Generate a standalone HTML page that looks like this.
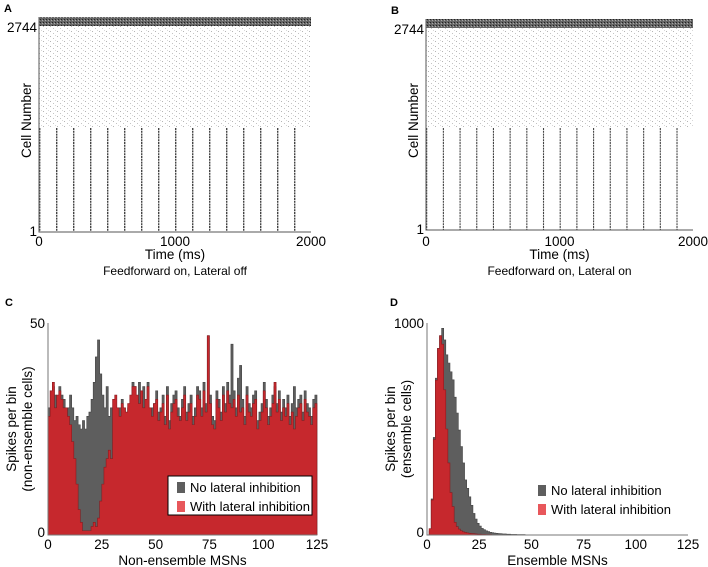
<!DOCTYPE html>
<html><head><meta charset="utf-8"><style>
body{margin:0;background:#fff;}
svg{display:block;font-family:"Liberation Sans",Arial,sans-serif;}
</style></head><body>
<svg id="fig" width="708" height="567" viewBox="0 0 708 567">
<defs>
<pattern id="speck" width="7" height="5" patternUnits="userSpaceOnUse">
<rect width="7" height="5" fill="#fff"/>
<rect x="1" y="1" width="1" height="1" fill="#b4b4b4"/>
<rect x="4" y="3" width="1" height="1" fill="#c4c4c4"/>
<rect x="6" y="0" width="1" height="1" fill="#d8d8d8"/>
</pattern>
<pattern id="dense" width="3" height="3" patternUnits="userSpaceOnUse">
<rect width="3" height="3" fill="#666"/>
<rect x="1" y="1" width="1" height="1" fill="#222"/>
<rect x="0" y="2" width="1" height="1" fill="#aaa"/>
</pattern>
</defs>
<g id="A"></g>
<g id="B"></g>
<g id="C"></g>
<g id="D"></g>
</svg>
<script>
// Raster data
const burstTimes = [0,125,250,375,500,625,750,875,1000,1125,1250,1375,1500,1625,1750,1875];
const rasterTicks = [0,1000,2000];
// Panel C data (non-ensemble, bin width 1)
const cGray = [30,34,35,33,30,35,33,32,28,30,33,30,27,28,26,25,27,25,28,29,32,36,42,46,38,33,30,35,28,30,
30,26,25,30,32,30,28,30,32,36,35,30,36,30,35,32,36,28,30,31,34,29,30,33,28,35,27,31,33,34,
30,28,32,35,29,31,33,28,30,35,34,30,36,31,47,33,28,27,34,32,29,35,31,36,33,45,34,30,37,40,
32,28,35,31,30,33,34,27,29,31,36,32,28,30,33,35,31,34,29,32,30,33,28,31,35,30,32,33,29,34,31,30,28,32,33];
const cRed = [28,34,36,30,33,34,32,30,30,28,26,22,18,12,6,3,1,1,1,1,2,3,2,4,8,12,16,18,20,18,
32,33,30,28,31,30,29,31,33,35,35,33,31,34,30,32,35,30,28,31,32,27,29,31,26,33,25,29,31,32,
28,27,30,33,27,29,31,26,28,33,32,28,34,29,47,31,26,25,32,30,27,33,29,34,31,30,32,28,33,29,
30,26,33,29,28,31,32,25,27,29,34,30,26,28,31,36,29,32,27,30,28,31,26,29,25,28,30,31,27,32,29,28,26,30,31];
// Panel D data (ensemble)
const dGray = [0,20,170,460,740,880,940,975,920,850,811,770,732,650,575,495,417,340,260,220,180,140,102,75,55,42,31,25,20,16,13,11,9,8,7,6,5,5,4,4,3,3,3,2,2,2,2,1,1,1,1,1,1,1,1];
const dRed = [0,30,165,450,730,880,940,900,685,500,340,200,134,60,40,28,20,15,12,10,8,7,6,5,4,4,3,3,2,2,2,1,1,1,1,1,1,1,1,1];
const histTicks = [0,25,50,75,100,125];

const NS='http://www.w3.org/2000/svg';
function mk(parent,tag,attrs,text){const e=document.createElementNS(NS,tag);for(const k in attrs)e.setAttribute(k,attrs[k]);if(text!==undefined)e.textContent=text;parent.appendChild(e);return e;}

function raster(gid,L,R,T,band,sparseEnd,B,label,caption,lw){
  const g=document.getElementById(gid);
  const x=t=>L+(t/2000)*(R-L);
  let e;
  e=mk(g,'text',{x:L-35,y:T-5,'font-size':11,'font-weight':'bold'},label);
  
  
  e=mk(g,'rect',{x:L,y:band,width:R-L,height:sparseEnd-band,fill:'url(#speck)'});
  
  
  e=mk(g,'rect',{x:L,y:T,width:R-L,height:band-T,fill:'url(#dense)'});
  
  
  burstTimes.forEach(t=>{
    const l=mk(g,'line',{x1:x(t)+0.7,x2:x(t)+0.7,y1:sparseEnd,y2:B,stroke:'#444','stroke-width':lw,'stroke-dasharray':'2 0.8'});
    
    
  });
  e=mk(g,'path',{d:`M${L},${T}V${B}H${R}`,fill:'none',stroke:'#555','stroke-width':1});
  
  
  rasterTicks.forEach(t=>{
    const tt=mk(g,'text',{x:x(t),y:246,'font-size':13.5,'text-anchor':'middle'},t);
    
    
  });
  e=mk(g,'text',{x:L-2,y:T+15,'font-size':13.5,'text-anchor':'end'},'2744');
  
  
  e=mk(g,'text',{x:L-2,y:B+4,'font-size':13.5,'text-anchor':'end'},'1');
  
  
  e=mk(g,'text',{x:(L+R)/2,y:259,'font-size':13.5,'text-anchor':'middle'},'Time (ms)');
  
  
  e=mk(g,'text',{x:(L+R)/2,y:275,'font-size':12,'text-anchor':'middle'},caption);
  
  
  e=mk(g,'text',{transform:`translate(${L-8},${(T+B)/2-4}) rotate(-90)`,'font-size':13.5,'text-anchor':'middle'},'Cell Number');
  
  
}
raster('A',39,311,17,26,128,232,'A','Feedforward on, Lateral off',1.4);
raster('B',426,693,19,28,128,230,'B','Feedforward on, Lateral on',1.1);

function stepPath(vals,x,y){
  let d=`M${x(0)},${y(0)}`;
  vals.forEach((v,i)=>{d+=`V${y(v)}H${x(i+1)}`;});
  d+=`V${y(0)}Z`;return d;
}
function hist(gid,L,R,T,B,ymax,gray,red,label,ytop,t1,t2,xtitle,leg){
  const g=document.getElementById(gid);
  const x=v=>L+(v/125)*(R-L);
  const y=v=>B-(v/ymax)*(B-T);
  let e;
  e=mk(g,'text',{x:label[1],y:306,'font-size':11,'font-weight':'bold'},label[0]);
  
  
  e=mk(g,'path',{d:stepPath(gray,x,y),fill:'#5e5e5e',stroke:'#444','stroke-width':0.6});
  
  
  e=mk(g,'path',{d:stepPath(red,x,y),fill:'#c6282d',stroke:'#8a1a1e','stroke-width':0.6});
  
  
  e=mk(g,'path',{d:`M${L},${T}V${B}H${R}`,fill:'none',stroke:'#777','stroke-width':1});
  
  
  histTicks.forEach(t=>{
    const tt=mk(g,'text',{x:x(t),y:549,'font-size':13.5,'text-anchor':'middle'},t);
    
    
  });
  e=mk(g,'text',{x:L-3,y:T+5,'font-size':13.5,'text-anchor':'end'},ytop);
  
  
  e=mk(g,'text',{x:L-3,y:B+2,'font-size':13.5,'text-anchor':'end'},'0');
  
  
  e=mk(g,'text',{x:(L+R)/2,y:565,'font-size':13.5,'text-anchor':'middle'},xtitle);
  
  
  e=mk(g,'text',{transform:`translate(${L-32},${(T+B)/2}) rotate(-90)`,'font-size':13.5,'text-anchor':'middle'},t1);
  
  
  e=mk(g,'text',{transform:`translate(${L-16},${(T+B)/2}) rotate(-90)`,'font-size':13.5,'text-anchor':'middle'},t2);
  
  
  const lg=mk(g,'g',{});
  
  
  if(leg.box){mk(lg,'rect',{x:leg.x,y:leg.y,width:leg.w,height:leg.h,fill:'#fff',stroke:'#000','stroke-width':1});}
  e=mk(lg,'rect',{x:leg.x+9,y:leg.y+6,width:8,height:11,fill:'#5e5e5e'});
  
  
  e=mk(lg,'text',{x:leg.x+22,y:leg.y+16,'font-size':13},'No lateral inhibition');
  
  
  e=mk(lg,'rect',{x:leg.x+9,y:leg.y+25,width:8,height:11,fill:'#e8575b'});
  
  
  e=mk(lg,'text',{x:leg.x+22,y:leg.y+35,'font-size':13},'With lateral inhibition');
  
  
}
hist('C',48,317,323,535,50,cGray,cRed,['C',5],'50','Spikes per bin','(non-ensemble cells)','Non-ensemble MSNs',{box:true,x:168,y:476,w:144,h:39});
hist('D',427,688,323,535,1000,dGray,dRed,['D',390],'1000','Spikes per bin','(ensemble cells)','Ensemble MSNs',{box:false,x:529,y:479,w:0,h:0});
</script>
</body></html>
